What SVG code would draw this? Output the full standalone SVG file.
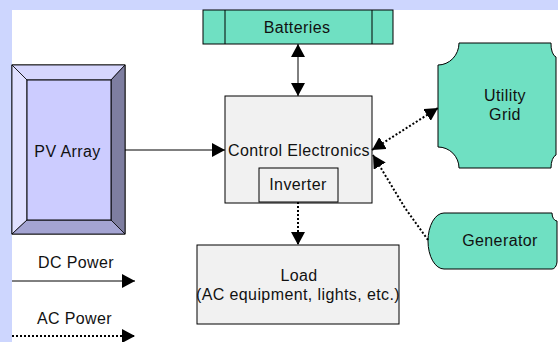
<svg xmlns="http://www.w3.org/2000/svg" width="558" height="342" viewBox="0 0 558 342">
<style>
text{font-family:"Liberation Sans",Arial,sans-serif;font-size:16px;fill:#111;text-anchor:middle;letter-spacing:0.4px}
.ln{stroke:#000;stroke-width:1;fill:none}
.dot{stroke:#000;stroke-width:2;stroke-dasharray:2 2;fill:none}
.box{fill:#f1f1f1;stroke:#000;stroke-width:1}
.teal{fill:#6fe0c2;stroke:#000;stroke-width:1}
</style>
<defs>
<marker id="a" viewBox="0 0 13 14" refX="13" refY="7" markerWidth="13" markerHeight="14" markerUnits="userSpaceOnUse" orient="auto-start-reverse"><path d="M0,0 L13,7 L0,14 Z" fill="#000"/></marker>
</defs>
<rect width="558" height="342" fill="#cdd6fe"/>
<rect x="12" y="10" width="546" height="332" fill="#fff"/>

<g id="pv-array">
<rect x="12" y="65" width="113" height="169" fill="#ccccff" stroke="#000"/>
<polygon points="12,65 125,65 111,80 27,80" fill="#d6d6fd" stroke="#000" stroke-width="0.8"/>
<polygon points="12,65 27,80 27,220 12,234" fill="#e0e0ff" stroke="#000" stroke-width="0.8"/>
<polygon points="125,65 125,234 111,220 111,80" fill="#7e7ea0" stroke="#000" stroke-width="0.8"/>
<polygon points="12,234 27,220 111,220 125,234" fill="#a4a4d2" stroke="#000" stroke-width="0.8"/>
<rect x="27" y="80" width="84" height="140" fill="#ccccff" stroke="#000"/>
<text x="67.5" y="157">PV Array</text>
</g>

<g id="batteries">
<rect x="203" y="10" width="190" height="34" class="teal"/>
<line x1="225" y1="10" x2="225" y2="44" class="ln"/>
<line x1="372" y1="10" x2="372" y2="44" class="ln"/>
<text x="297" y="33">Batteries</text>
</g>

<g id="control-electronics">
<rect x="225" y="96" width="147" height="107" class="box"/>
<text x="299" y="156">Control Electronics</text>
</g>

<g id="inverter">
<rect x="259" y="168" width="79" height="34" class="box"/>
<text x="298" y="190">Inverter</text>
</g>

<g id="load">
<rect x="197" y="245" width="202" height="79" class="box"/>
<text x="299" y="281">Load</text>
<text x="298" y="300">(AC equipment, lights, etc.)</text>
</g>

<g id="utility-grid">
<path d="M459,43 H551 A6,13 0 0 0 556,57 V155 A6,13 0 0 0 551,168 H459 A21,21 0 0 0 438,147 V65 A21,22 0 0 0 459,43 Z" class="teal"/>
<text x="505" y="101">Utility</text>
<text x="505" y="120">Grid</text>
</g>

<g id="generator">
<path d="M444,213 H552 A5,8 0 0 0 557,221 V262 A5,8 0 0 1 552,269 H444 A16,28 0 0 1 444,213 Z" class="teal"/>
<text x="500" y="246">Generator</text>
</g>

<g id="connectors">
<line x1="125" y1="150" x2="225" y2="150" class="ln" marker-end="url(#a)"/>
<line x1="298" y1="44" x2="298" y2="96" class="ln" stroke-width="2" marker-start="url(#a)" marker-end="url(#a)"/>
<line x1="298" y1="202" x2="298" y2="245" class="dot" marker-end="url(#a)"/>
<line x1="372" y1="150" x2="438" y2="108" class="dot" marker-start="url(#a)" marker-end="url(#a)"/>
<polyline points="428,240 405,208 373,155" class="dot" marker-end="url(#a)"/>
<line x1="12" y1="281" x2="135" y2="281" class="ln" marker-end="url(#a)"/>
<line x1="12" y1="336" x2="135" y2="336" class="dot" marker-end="url(#a)"/>
</g>

<g id="legend">
<text x="76" y="268">DC Power</text>
<text x="74.5" y="324">AC Power</text>
</g>
</svg>
